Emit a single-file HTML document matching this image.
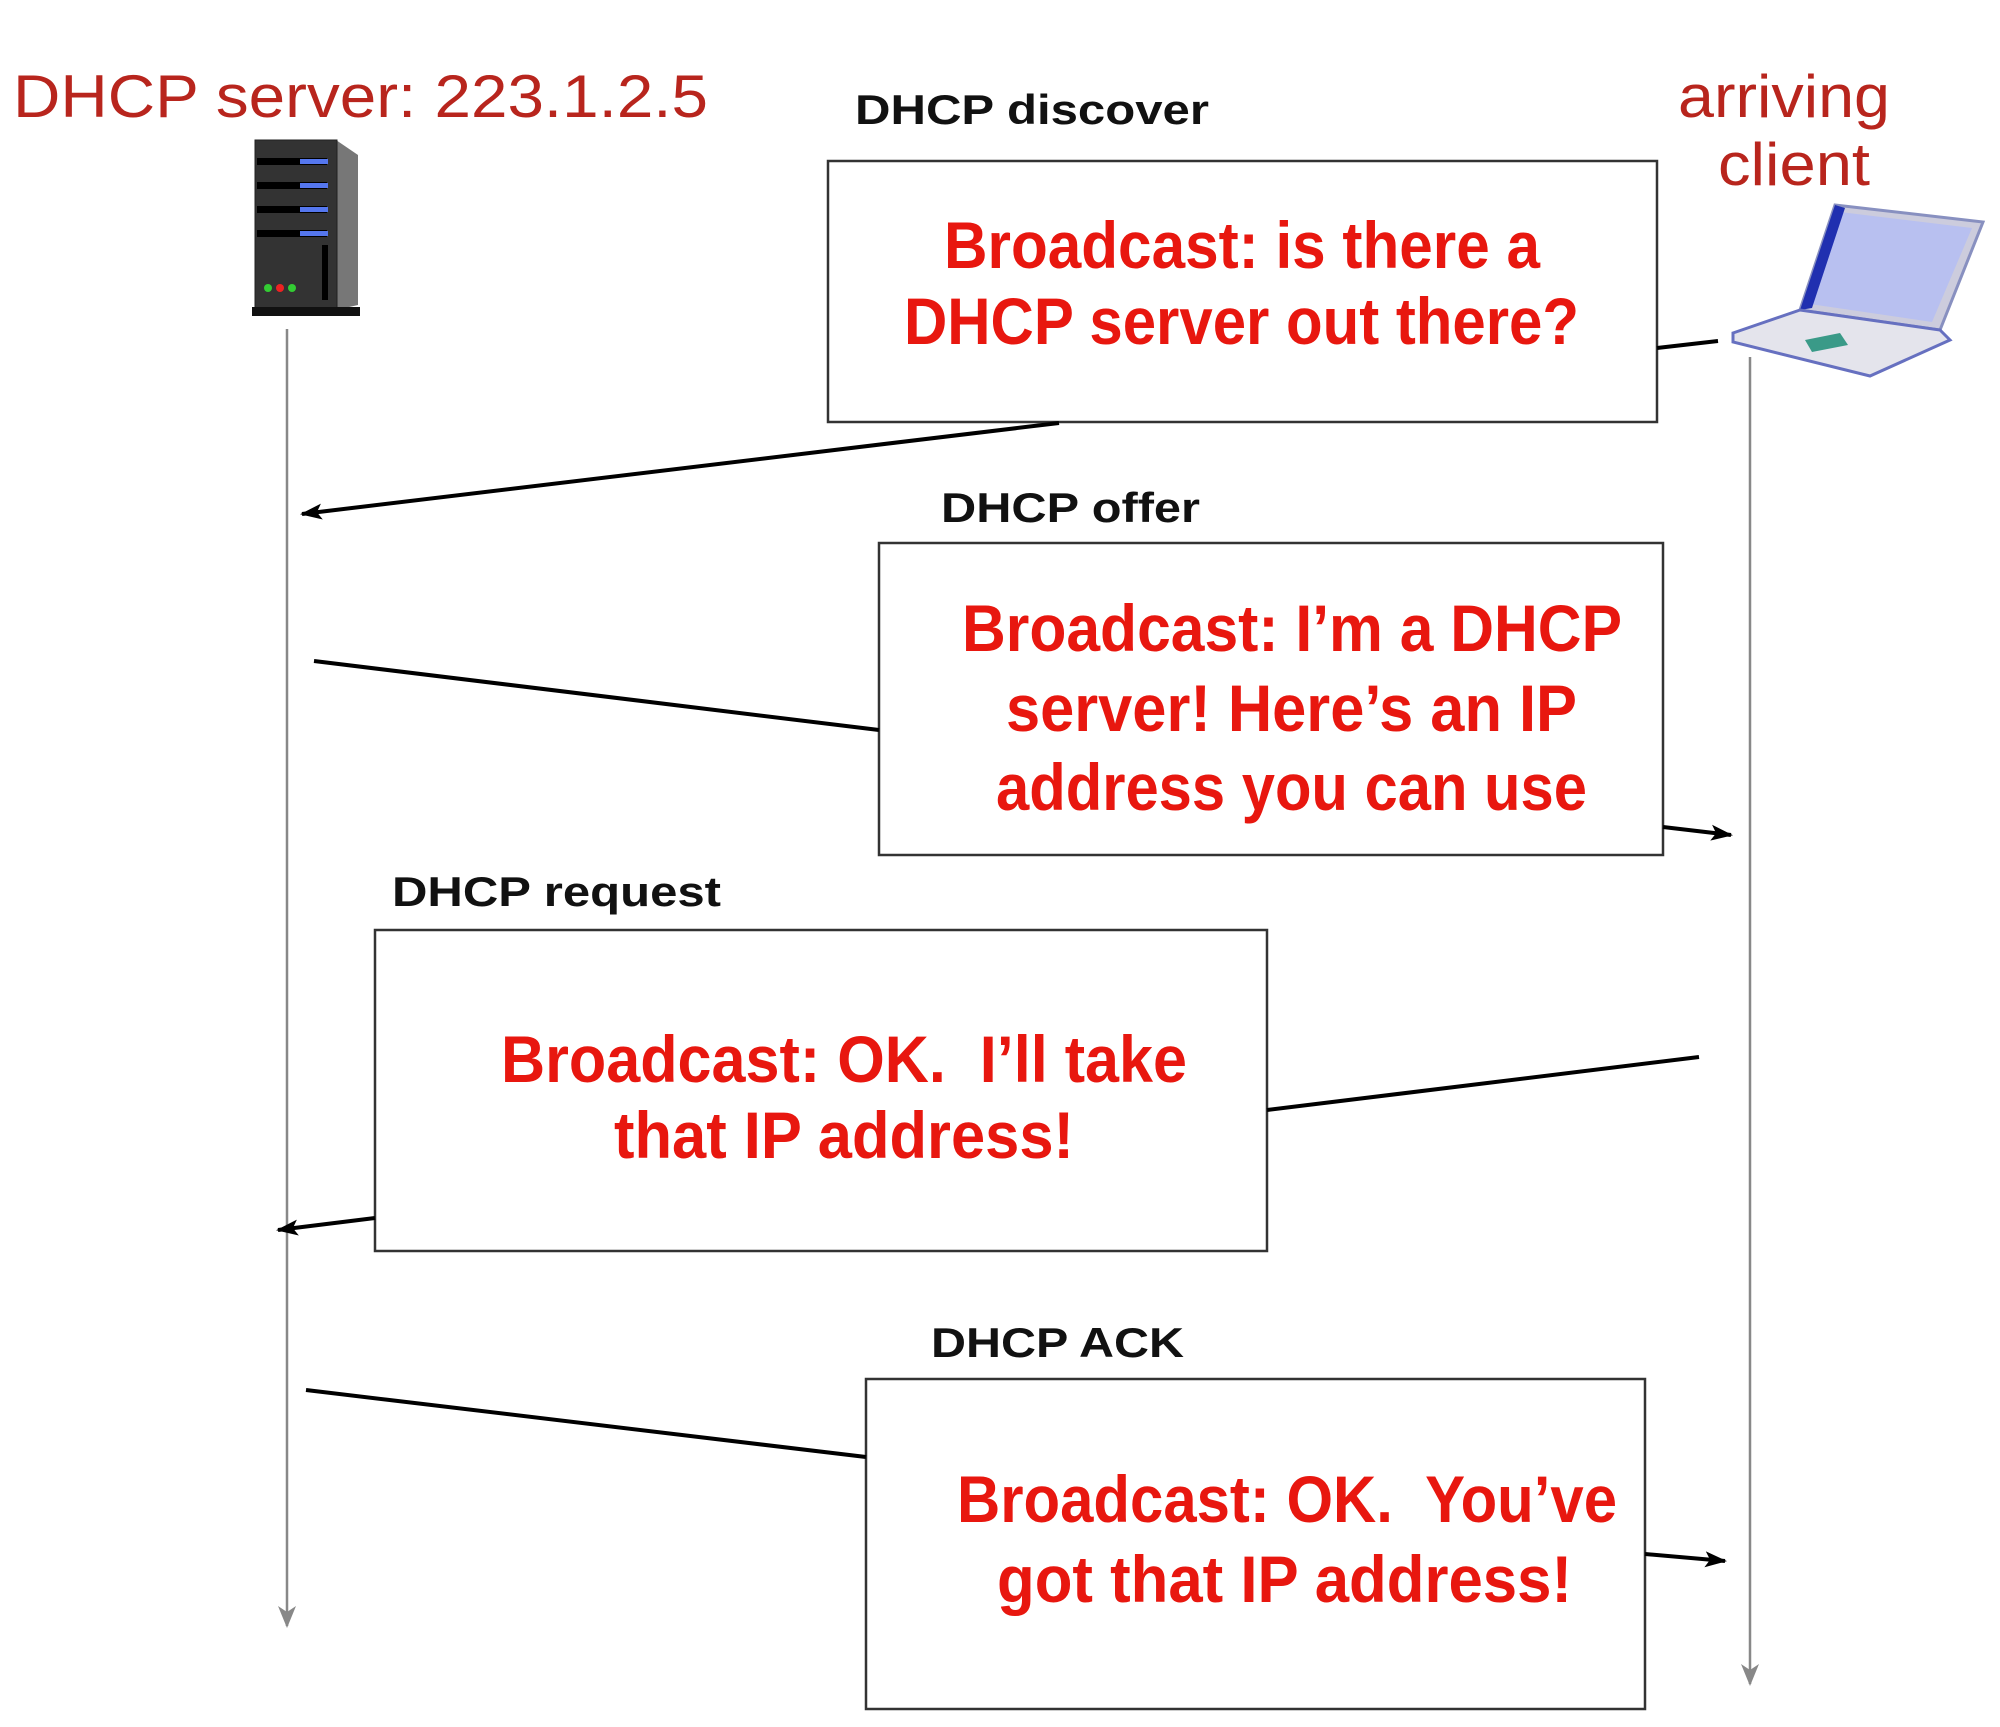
<!DOCTYPE html>
<html><head><meta charset="utf-8"><style>html,body{margin:0;padding:0;background:#fff}svg{display:block}</style></head>
<body>
<svg width="2000" height="1727" viewBox="0 0 2000 1727" xmlns="http://www.w3.org/2000/svg">
<defs>
<marker id="ahb" markerWidth="22" markerHeight="16" refX="20" refY="8" orient="auto" markerUnits="userSpaceOnUse"><path d="M0,0 L22,8 L0,16 L5,8 z" fill="#000"/></marker>
<marker id="ahg" markerWidth="22" markerHeight="18" refX="20" refY="9" orient="auto" markerUnits="userSpaceOnUse"><path d="M0,0 L22,9 L0,18 L6,9 z" fill="#888"/></marker>
</defs>
<rect width="2000" height="1727" fill="#fff"/>
<g font-family="Liberation Sans, sans-serif" fill="#b8251d">
<text x="13" y="117" font-size="60" textLength="695" lengthAdjust="spacingAndGlyphs">DHCP server: 223.1.2.5</text>
<text x="1678" y="117" font-size="60" textLength="212" lengthAdjust="spacingAndGlyphs">arriving</text>
<text x="1718" y="185" font-size="60" textLength="152" lengthAdjust="spacingAndGlyphs">client</text>
</g>
<g>
<polygon points="336,140 358,155 358,305 336,310" fill="#777"/>
<rect x="255" y="140" width="82" height="168" fill="#333" stroke="#222"/>
<g fill="#000"><rect x="257" y="158" width="70" height="7"/><rect x="257" y="182" width="70" height="7"/><rect x="257" y="206" width="70" height="7"/><rect x="257" y="230" width="70" height="7"/></g>
<g fill="#5577ee"><rect x="300" y="159" width="28" height="5"/><rect x="300" y="183" width="28" height="5"/><rect x="300" y="207" width="28" height="5"/><rect x="300" y="231" width="28" height="5"/></g>
<rect x="322" y="245" width="6" height="55" fill="#000"/>
<circle cx="268" cy="288" r="4" fill="#3c3"/><circle cx="280" cy="288" r="4" fill="#e22"/><circle cx="292" cy="288" r="4" fill="#3c3"/>
<rect x="252" y="307" width="108" height="9" fill="#111"/>
</g>
<g>
<polygon points="1835,205 1983,222 1940,330 1800,310" fill="#ccd" stroke="#8890c0" stroke-width="3"/>
<polygon points="1840,212 1972,228 1932,322 1810,304" fill="#b8c0f0"/>
<polygon points="1835,205 1845,208 1812,308 1800,310" fill="#2030b0"/>
<polygon points="1733,333 1800,310 1940,330 1950,340 1870,376 1733,342" fill="#e4e4ec" stroke="#6670c0" stroke-width="3"/>
<polygon points="1805,340 1840,333 1848,345 1812,352" fill="#3a9a88"/>
</g>
<line x1="287" y1="329" x2="287" y2="1626" stroke="#888" stroke-width="2.5" marker-end="url(#ahg)"/>
<line x1="1750" y1="357" x2="1750" y2="1684" stroke="#888" stroke-width="2.5" marker-end="url(#ahg)"/>
<g fill="#fff" stroke="#333" stroke-width="2.5">
<rect x="828" y="161" width="829" height="261"/>
<rect x="879" y="543" width="784" height="312"/>
<rect x="375" y="930" width="892" height="321"/>
<rect x="866" y="1379" width="779" height="330"/>
</g>
<g stroke="#000" stroke-width="4" fill="none">
<line x1="1059" y1="423" x2="302" y2="514" marker-end="url(#ahb)"/>
<line x1="1657" y1="348" x2="1718" y2="341"/>
<line x1="314" y1="661" x2="879" y2="730"/>
<line x1="1663" y1="827" x2="1731" y2="835" marker-end="url(#ahb)"/>
<line x1="1267" y1="1110" x2="1699" y2="1057"/>
<line x1="375" y1="1218" x2="278" y2="1230" marker-end="url(#ahb)"/>
<line x1="306" y1="1390" x2="866" y2="1457"/>
<line x1="1645" y1="1554" x2="1725" y2="1561" marker-end="url(#ahb)"/>
</g>
<g font-family="Liberation Sans, sans-serif" font-weight="bold" font-size="42" fill="#111">
<text x="855" y="124" textLength="354" lengthAdjust="spacingAndGlyphs">DHCP discover</text>
<text x="941" y="522" textLength="259" lengthAdjust="spacingAndGlyphs">DHCP offer</text>
<text x="392" y="906" textLength="329" lengthAdjust="spacingAndGlyphs">DHCP request</text>
<text x="931" y="1357" textLength="253" lengthAdjust="spacingAndGlyphs">DHCP ACK</text>
</g>
<g font-family="Liberation Sans, sans-serif" font-weight="bold" font-size="66" fill="#e8170f">
<text x="944" y="268" textLength="596" lengthAdjust="spacingAndGlyphs">Broadcast: is there a</text>
<text x="904" y="344" textLength="675" lengthAdjust="spacingAndGlyphs">DHCP server out there?</text>
<text x="962" y="651" textLength="660" lengthAdjust="spacingAndGlyphs">Broadcast: I’m a DHCP</text>
<text x="1006" y="731" textLength="571" lengthAdjust="spacingAndGlyphs">server! Here’s an IP</text>
<text x="996" y="810" textLength="591" lengthAdjust="spacingAndGlyphs">address you can use</text>
<text x="501" y="1082" textLength="686" lengthAdjust="spacingAndGlyphs" xml:space="preserve">Broadcast: OK.  I’ll take</text>
<text x="614" y="1158" textLength="460" lengthAdjust="spacingAndGlyphs">that IP address!</text>
<text x="957" y="1522" textLength="660" lengthAdjust="spacingAndGlyphs" xml:space="preserve">Broadcast: OK.  You’ve</text>
<text x="997" y="1602" textLength="575" lengthAdjust="spacingAndGlyphs">got that IP address!</text>
</g>
</svg>
</body></html>
